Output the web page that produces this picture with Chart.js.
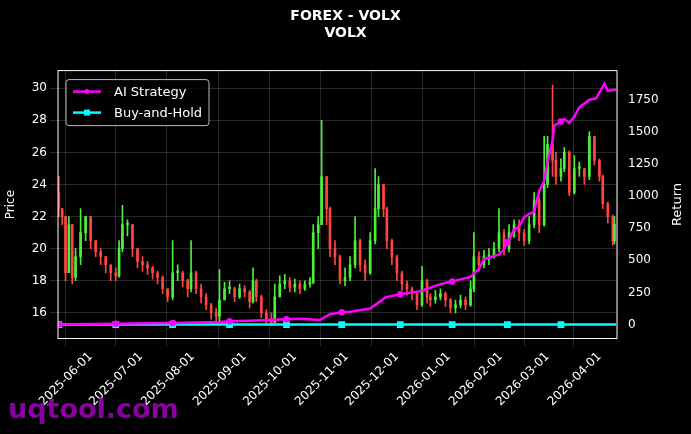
<!DOCTYPE html>
<html>
<head>
<meta charset="utf-8">
<script src="https://cdn.jsdelivr.net/npm/chart.js@4/dist/chart.umd.min.js"></script>
<style>
  html, body { margin: 0; padding: 0; background: #000; }
  #wrap { width: 691px; height: 434px; position: relative; }
</style>
</head>
<body>
<div id="wrap"><canvas id="c" width="691" height="434"></canvas></div>
<script>
// day offsets from 2025-05-14
const days = [-1,1,3,5,7,9,12,15,18,21,24,27,30,33,35,37,40,43,46,49,52,55,58,61,64,67,70,73,76,78,81,84,87,90,93,95,98,101,104,107,110,113,115,117,120,123,126,128,131,134,137,140,143,146,149,151,154,156,159,161,164,167,170,173,176,179,182,185,188,190,193,195,198,201,204,207,210,213,216,219,221,224,227,230,233,236,239,242,245,247,250,253,256,259,262,265,268,271,274,277,280,283,286,289,291,294,296,299,301,304,307,310,313,316,319,322,324,327,330,331];
const closes = [22.5,22,18.5,21.5,18.2,19.5,21,22,20.5,19.8,19.5,19,18.5,18.3,20,21.5,21.5,20,19.2,19,18.8,18.5,18.2,17.5,17,18.5,18.5,18,17.5,18.5,17.5,17,16.5,16,15.8,16.8,17.5,17.5,17,17.5,17.3,16.7,18,17,16,15.6,15.4,17,17.8,18,17.6,17.8,17.5,17.8,17.9,21,21.5,24.5,22.5,20,19.5,18,18.2,19,20.5,19,18.5,20.5,22.5,24,22.5,20.5,19.5,18.5,17.8,17.5,17.2,16.5,18,17,16.8,17,17.2,16.8,16.3,16.5,16.8,16.5,17.5,19.5,19,19.5,19.5,20,21,20,21,21.5,21,20.5,21.5,23,21.5,24,26.5,25.5,24.5,25,26,23.5,25,25,24.5,27,25.5,24.5,22.8,22,20.5,21.5];
const highs = [24.5,22.5,22,22,21.5,20,22.5,22,22,20.5,20,19.5,19,18.8,20.5,22.7,21.8,21.5,20,19.5,19.2,18.9,18.6,18.3,17.5,20.5,19,18.6,18.1,20.5,18.6,17.8,17.2,16.6,16.3,18.7,17.9,18,17.6,17.8,17.7,17.4,18.8,18.1,17.1,16.2,16,17.8,18.3,18.4,18.2,18.1,18,18,18.2,21.5,22,28,24.5,22.6,20.5,19.6,18.8,19.5,22,20.6,19.3,21,25,24.5,24,22.6,20.6,19.6,18.6,18,17.6,17.3,18.9,18.1,17.2,17.4,17.5,17.3,16.9,16.8,17.1,17,18,21,19.8,19.9,20,20.4,22.5,21.2,21.5,21.8,21.8,21.2,22,23.5,23.2,27,27,30.2,26,25.6,26.3,26.1,25.8,25.4,25,27.3,27,25.6,24.6,22.9,22.1,22];
const lows = [22,21.5,18,18.5,17.8,18,19,20.5,20,19.5,19,18.5,18,18,18.2,19.8,20.8,19.5,18.8,18.6,18.4,18.1,17.8,17.2,16.7,16.8,18,17.6,17,17.3,17.2,16.6,16.2,15.6,15.4,15.5,16.8,17.2,16.7,16.9,17,16.3,16.6,16.7,15.7,15.3,15.2,15.4,17,17.5,17.3,17.3,17.2,17.4,17.6,17.8,20,21.5,21.5,19.5,19,17.8,17.7,18,18.8,18.6,18,18.4,20.3,22,22,20,19,18,17.4,17.1,16.8,16.2,16.4,16.6,16.4,16.6,16.8,16.4,16,16,16.3,16.2,16.4,17.3,18.6,18.8,19,19.4,19.8,19.6,19.8,20.7,20.5,20.2,20.3,21.3,21,21.4,23.8,24.5,24,24.2,24.8,23.3,23.4,24.5,24,24.3,25.2,24.2,22.5,21.6,20.2,20.3];

const aiDays = [-1,33,54,67,95,101,113,135,143,155,161,168,173,185,191,194,203,215,226,233,234,245,247,250,253,256,262,265,267,268,271,274,277,280,283,286,289,291,294,295,298,299,301,304,307,310,316,320,325,327,332];
const aiReturn = [0,5,10,12,20,25,30,40,45,35,80,95,100,125,180,210,235,260,310,335,335,370,400,430,510,520,545,585,640,660,740,760,835,860,880,1040,1115,1270,1430,1550,1570,1580,1600,1570,1620,1690,1750,1760,1875,1820,1830];
const markerDays = [-1,33,67,101,135,168,203,234,267,299];
const bhDays = [-1,33,67,101,135,168,203,234,267,299,332];
const bhValues = [0,0,0,0,0,0,0,0,0,0,0];

const monthDays = [18,48,79,110,140,171,201,232,263,291,322];
const monthLabels = ["2025-06-01","2025-07-01","2025-08-01","2025-09-01","2025-10-01","2025-11-01","2025-12-01","2026-01-01","2026-02-01","2026-03-01","2026-04-01"];

const GREEN = "#4cf03c", RED = "#ff4444";
const opens = closes.map((c, i) => i === 0 ? 23.5 : closes[i - 1]);
const colors = closes.map((c, i) => c >= opens[i] ? GREEN : RED);

const wicks = days.map((d, i) => ({ x: d, y: [lows[i], highs[i]] }));
const bodies = days.map((d, i) => {
  let a = Math.min(opens[i], closes[i]), b = Math.max(opens[i], closes[i]);
  if (b - a < 0.1) b = a + 0.1;
  return { x: d, y: [a, b] };
});

const gridStyle = { color: "rgba(150,150,150,0.45)", borderDash: [3, 3], lineWidth: 0.6 };

const extras = {
  id: "extras",
  beforeDraw(chart) {
    const ctx = chart.ctx;
    ctx.save();
    ctx.fillStyle = "#000";
    ctx.fillRect(0, 0, chart.width, chart.height);
    ctx.restore();
  },
  afterDraw(chart) {
    const ctx = chart.ctx, a = chart.chartArea;
    ctx.save();
    ctx.strokeStyle = "#fff";
    ctx.lineWidth = 1;
    ctx.strokeRect(a.left, a.top, a.right - a.left, a.bottom - a.top);
    // legend
    ctx.fillStyle = "rgba(0,0,0,0.8)";
    ctx.strokeStyle = "#bbb";
    ctx.beginPath();
    ctx.roundRect(a.left + 8, a.top + 9, 143, 46, 3);
    ctx.fill(); ctx.stroke();
    ctx.font = "13px 'DejaVu Sans'";
    ctx.textBaseline = "middle";
    const items = [["AI Strategy", "#ff00ff", "circle"], ["Buy-and-Hold", "#00ffff", "rect"]];
    items.forEach((it, k) => {
      const y = a.top + 21 + k * 21, x = a.left + 15;
      ctx.strokeStyle = it[1]; ctx.fillStyle = it[1]; ctx.lineWidth = 2.5;
      ctx.beginPath(); ctx.moveTo(x, y); ctx.lineTo(x + 28, y); ctx.stroke();
      if (it[2] === "circle") { ctx.beginPath(); ctx.arc(x + 14, y, 2.5, 0, 7); ctx.fill(); }
      else ctx.fillRect(x + 11, y - 3, 6, 6);
      ctx.fillStyle = "#fff";
      ctx.fillText(it[0], x + 41, y + 1);
    });
    // right axis title, reading bottom to top
    ctx.font = "13px 'DejaVu Sans'";
    ctx.translate(678, (a.top + a.bottom) / 2);
    ctx.rotate(-Math.PI / 2);
    ctx.textAlign = "center";
    ctx.fillText("Return", 0, 0);
    ctx.setTransform(1, 0, 0, 1, 0, 0);
    // watermark
    ctx.font = "bold 27px 'DejaVu Sans'";
    ctx.fillStyle = "rgba(160,0,190,0.85)";
    ctx.textAlign = "left";
    ctx.textBaseline = "alphabetic";
    ctx.fillText("uqtool.com", 8, 418);
    ctx.restore();
  }
};

new Chart(document.getElementById("c"), {
  type: "bar",
  data: {
    datasets: [
      { type: "line", label: "AI Strategy", yAxisID: "y2", order: 0,
        data: aiDays.map((d, i) => ({ x: d, y: aiReturn[i] })),
        borderColor: "#ff00ff", backgroundColor: "#ff00ff", borderWidth: 2.5,
        pointRadius: ctx => markerDays.includes(aiDays[ctx.dataIndex]) ? 2 : 0, tension: 0 },
      { type: "line", label: "Buy-and-Hold", yAxisID: "y2", order: 1,
        data: bhDays.map((d, i) => ({ x: d, y: bhValues[i] })),
        borderColor: "#00ffff", backgroundColor: "#00ffff", borderWidth: 2.5,
        pointStyle: "rect", pointRadius: ctx => ctx.dataIndex < bhDays.length - 1 ? 3 : 0 },
      { label: "wick", yAxisID: "y", data: wicks, backgroundColor: colors, barThickness: 1, grouped: false, order: 3 },
      { label: "body", yAxisID: "y", data: bodies, backgroundColor: colors, barThickness: 2, grouped: false, order: 2 }
    ]
  },
  options: {
    responsive: false,
    animation: false,
    layout: { padding: { top: 0, right: 0, left: 0, bottom: 22 } },
    plugins: {
      legend: { display: false },
      tooltip: { enabled: false },
      title: { display: true, text: ["FOREX - VOLX", "VOLX"], color: "#fff",
        font: { family: "DejaVu Sans", size: 14, weight: "bold", lineHeight: 1.2 },
        padding: { top: 8, bottom: 29 } }
    },
    scales: {
      x: { type: "linear", min: -1.5, max: 332.5, offset: false,
        afterBuildTicks: s => { s.ticks = monthDays.map(v => ({ value: v })); },
        ticks: { color: "#fff", font: { family: "DejaVu Sans", size: 12 }, maxRotation: 45, minRotation: 45,
          autoSkip: false, callback: v => monthLabels[monthDays.indexOf(v)] },
        grid: gridStyle, border: { display: false } },
      y: { position: "left", min: 14.4, max: 31.1,
        afterFit: s => { s.width = 58; },
        ticks: { color: "#fff", font: { family: "DejaVu Sans", size: 12 } },
        afterBuildTicks: s => { s.ticks = [16,18,20,22,24,26,28,30].map(v => ({ value: v })); },
        title: { display: true, text: "Price", color: "#fff", font: { family: "DejaVu Sans", size: 12 } },
        grid: gridStyle, border: { display: false } },
      y2: { position: "right", min: -109, max: 1977,
        afterFit: s => { s.width = 74; },
        afterBuildTicks: s => { s.ticks = [0,250,500,750,1000,1250,1500,1750].map(v => ({ value: v })); },
        ticks: { color: "#fff", font: { family: "DejaVu Sans", size: 12 }, callback: v => String(v) },
        grid: { display: false }, border: { display: false } }
    }
  },
  plugins: [extras]
});
</script>
</body>
</html>
